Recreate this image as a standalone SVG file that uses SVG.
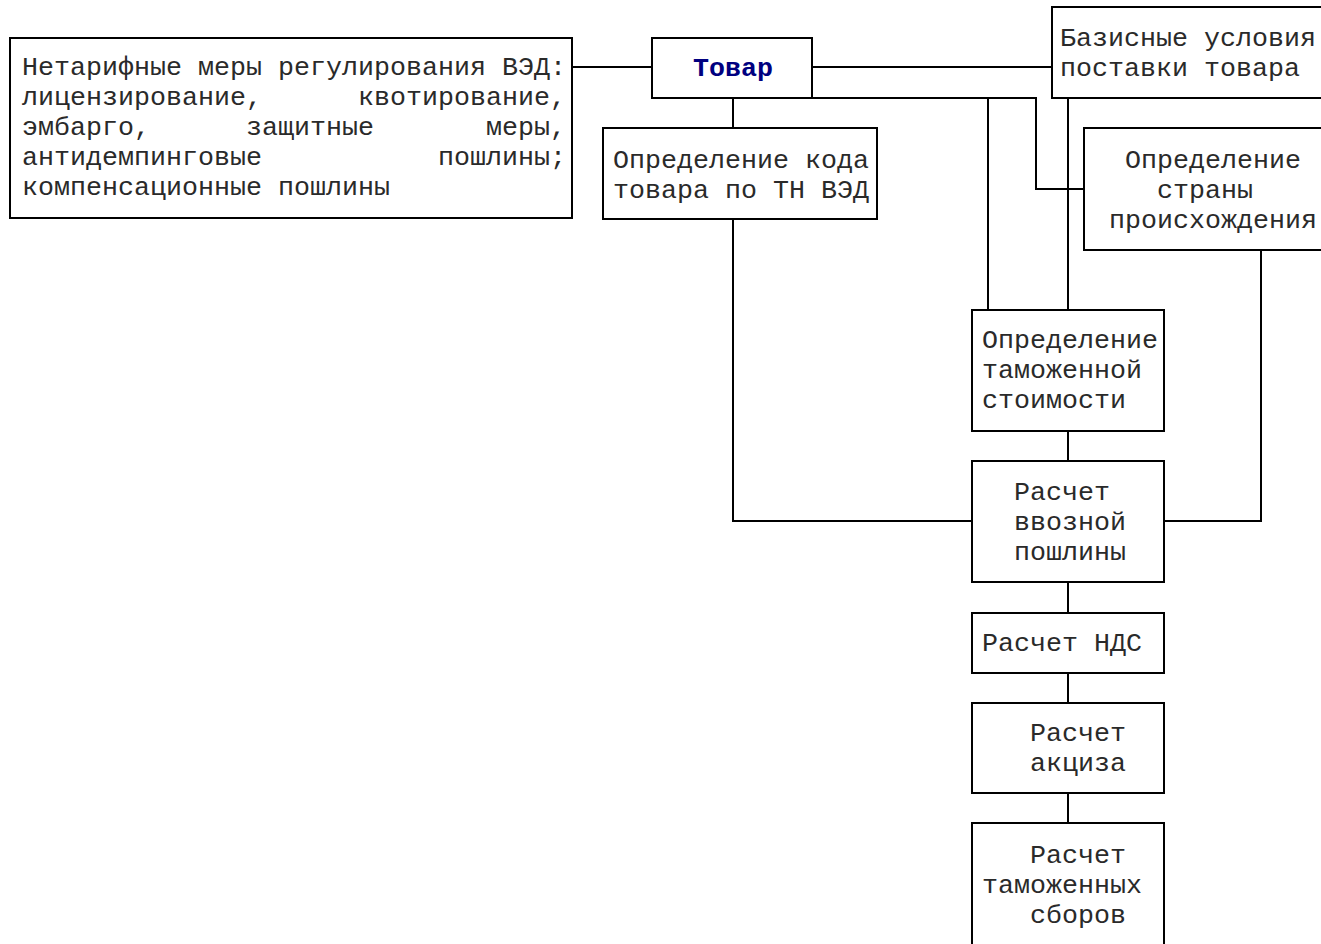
<svg xmlns="http://www.w3.org/2000/svg" width="1321" height="944" viewBox="0 0 1321 944">
<style>
.box{fill:#fff;stroke:#000;stroke-width:2}
.ln{fill:none;stroke:#000;stroke-width:2}
.t{font-family:"Courier New","Liberation Mono",monospace;font-size:26.67px;fill:#2a2a2a}
.b{font-weight:bold;fill:#000080}
</style>
<rect width="1321" height="944" fill="#fff"/>
<g id="connectors">
<path class="ln" d="M572,67H652"/>
<path class="ln" d="M812,67H1052"/>
<path class="ln" d="M733,98V128"/>
<path class="ln" d="M733,219V521H972"/>
<path class="ln" d="M812,98H1036V189H1084"/>
<path class="ln" d="M988,98V310"/>
<path class="ln" d="M1068,98V310"/>
<path class="ln" d="M1261,250V521H1164"/>
<path class="ln" d="M1068,431V461"/>
<path class="ln" d="M1068,582V613"/>
<path class="ln" d="M1068,673V703"/>
<path class="ln" d="M1068,793V823"/>
</g>
<g id="n-measures">
<rect class="box" x="10" y="38" width="562" height="180"/>
<text class="t"><tspan x="22" y="75">Нетарифные меры регулирования ВЭД:</tspan><tspan x="22" y="105">лицензирование,</tspan><tspan x="358" y="105">квотирование,</tspan><tspan x="22" y="135">эмбарго,</tspan><tspan x="246" y="135">защитные</tspan><tspan x="486" y="135">меры,</tspan><tspan x="22" y="165">антидемпинговые</tspan><tspan x="438" y="165">пошлины;</tspan><tspan x="22" y="195">компенсационные пошлины</tspan></text>
</g>
<g id="n-tovar">
<rect class="box" x="652" y="38" width="160" height="60"/>
<text class="t b" x="733" y="76" text-anchor="middle">Товар</text>
</g>
<g id="n-basis">
<rect class="box" x="1052" y="7" width="290" height="91"/>
<text class="t"><tspan x="1060" y="46">Базисные условия</tspan><tspan x="1060" y="76">поставки товара</tspan></text>
</g>
<g id="n-code">
<rect class="box" x="603" y="128" width="274" height="91"/>
<text class="t"><tspan x="613" y="168">Определение кода</tspan><tspan x="613" y="198">товара по ТН ВЭД</tspan></text>
</g>
<g id="n-origin">
<rect class="box" x="1084" y="128" width="260" height="122"/>
<text class="t"><tspan x="1125" y="168">Определение</tspan><tspan x="1157" y="198">страны</tspan><tspan x="1109" y="228">происхождения</tspan></text>
</g>
<g id="n-value">
<rect class="box" x="972" y="310" width="192" height="121"/>
<text class="t"><tspan x="982" y="348">Определение</tspan><tspan x="982" y="378">таможенной</tspan><tspan x="982" y="408">стоимости</tspan></text>
</g>
<g id="n-duty">
<rect class="box" x="972" y="461" width="192" height="121"/>
<text class="t"><tspan x="1014" y="500">Расчет</tspan><tspan x="1014" y="530">ввозной</tspan><tspan x="1014" y="560">пошлины</tspan></text>
</g>
<g id="n-vat">
<rect class="box" x="972" y="613" width="192" height="60"/>
<text class="t" x="982" y="651">Расчет НДС</text>
</g>
<g id="n-excise">
<rect class="box" x="972" y="703" width="192" height="90"/>
<text class="t"><tspan x="1030" y="741">Расчет</tspan><tspan x="1030" y="771">акциза</tspan></text>
</g>
<g id="n-fees">
<rect class="box" x="972" y="823" width="192" height="140"/>
<text class="t"><tspan x="1030" y="863">Расчет</tspan><tspan x="982" y="893">таможенных</tspan><tspan x="1030" y="923">сборов</tspan></text>
</g>
</svg>
